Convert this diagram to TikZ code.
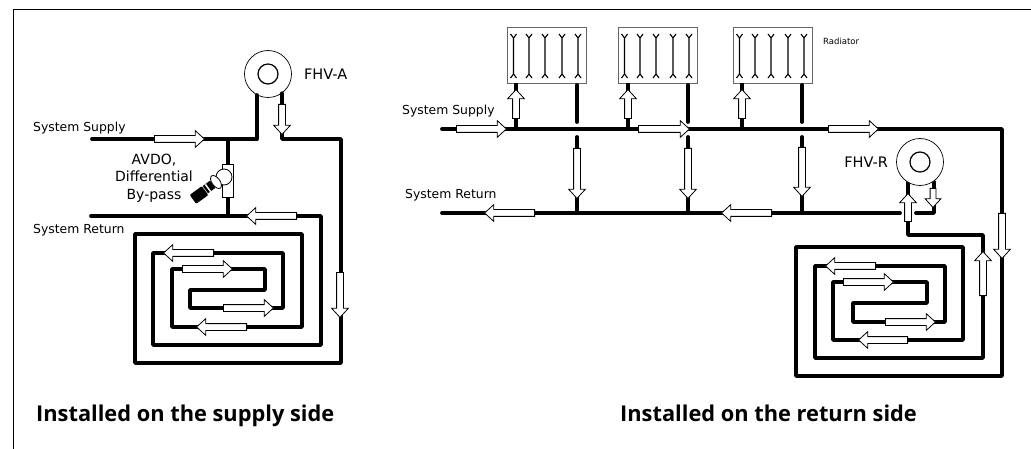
\documentclass[tikz,border=0pt]{standalone}
\usepackage{fontspec}
\setmainfont{DejaVu Sans}
\newfontfamily\titlefont{Open Sans}
\usetikzlibrary{shapes.arrows,shapes.geometric,positioning,calc}

\begin{document}
\begin{tikzpicture}[
    x=1pt, y=-1pt,
    node distance=8pt,
    pipe/.style={line width=3.8pt, line join=round, line cap=round},
    flow/.style={single arrow, draw=black, fill=white, line width=0.8pt, inner sep=3pt, minimum width=16pt, single arrow head extend=5pt, single arrow tip angle=85, anchor=tail},
    flowE/.style={flow, minimum height=#1, shape border rotate=0},
    flowW/.style={flow, minimum height=#1, shape border rotate=180},
    flowN/.style={flow, minimum height=#1, shape border rotate=90},
    flowS/.style={flow, minimum height=#1, shape border rotate=270},
    valve/.style={circle, draw=black, fill=white, line width=0.7pt, minimum size=47pt, inner sep=0pt},
    valvecore/.style={circle, draw=black, line width=1.2pt, minimum size=20pt, inner sep=0pt},
    radiator/.style={rectangle, draw=black!60, fill=white, line width=0.8pt, minimum width=79pt, minimum height=56pt, inner sep=0pt, anchor=north west},
    tube/.style={line width=1.1pt},
    label/.style={font=\fontsize{12.4}{12.4}\selectfont, inner sep=0pt},
    fhv/.style={font=\fontsize{14.5}{14.5}\selectfont, inner sep=0pt},
    caption/.style={font=\titlefont\bfseries\fontsize{21.8}{21.8}\selectfont, inner sep=0pt, anchor=base west},
    bypass/.style={rectangle, draw=black, fill=white, line width=0.7pt, inner sep=0pt},
    knob/.style={rectangle, fill=black, inner sep=0pt, rotate=36}
]
    \useasboundingbox (0,0) rectangle (1031,449);
    \coordinate (frameTL) at (13.5,9);
    \draw[line width=0.9pt] (13.5,449) -- (frameTL) -- (1031,9);

    % supply side
    \node[valve] (fhvA) at (268,74) {};
    \node[valvecore] (fhvAcore) at (fhvA) {};
    \node[fhv, right=12pt of fhvA] (fhvAlabel) {FHV-A};
    \coordinate (supA) at (92,139);
    \coordinate (retA) at (91,216);
    \coordinate (teeS) at (228,139);
    \coordinate (teeR) at (228,216);
    \draw[pipe] (supA) -| (fhvA.-118);
    \draw[pipe] (fhvA.-54) -- (fhvA.-54 |- supA) -- (341,139) -- (341,363) -- (135,363) -- (135,234)
        -- (302,234) -- (302,327) -- (172,327) -- (172,269) -- (265,269) -- (265,290) -- (190,290)
        -- (190,308) -- (283,308) -- (283,253) -- (153,253) -- (153,345) -- (321,345) -- (321,216) -- (retA);
    \draw[pipe] (teeS) -- (teeR);

    % by-pass valve
    \node[bypass, minimum width=11pt, minimum height=33pt] (avdo) at (228,181) {};
    \node[circle, draw=black, fill=white, line width=0.8pt, minimum size=16pt, inner sep=0pt] (elbow) at (224,177) {};
    \node[knob, minimum width=9pt, minimum height=9pt] (stem) at (209,187) {};
    \node[knob, fill=white, minimum width=1.5pt, minimum height=9pt] (stemband) at (208,188) {};
    \node[ellipse, draw=black, fill=white, line width=0.8pt, minimum width=8pt, minimum height=15pt, inner sep=0pt, rotate=36] (collar) at (216,182) {};
    \node[knob, minimum width=15pt, minimum height=11pt, rounded corners=1pt] (cap) at (199,195) {};

    \node[flowE=50pt] (fa1) at (154,139) {};
    \node[flowS=30pt] (fa2) at (282,104) {};
    \node[flowW=50pt] (fa3) at (297,216) {};
    \node[flowS=45pt] (fa4) at (340,272) {};
    \node[flowW=50pt] (fa5) at (214,253) {};
    \node[flowE=50pt] (fa6) at (182,269) {};
    \node[flowE=50pt] (fa7) at (223,308) {};
    \node[flowW=50pt] (fa8) at (247,327) {};

    \node[label, anchor=west] (supAlabel) at (33,128.5) {System Supply};
    \node[label, anchor=west] (retAlabel) at (33,230) {System Return};
    \node[fhv, font=\fontsize{14}{17.5}\selectfont, align=center] (avdolabel) at (154,178) {AVDO,\\Differential\\By-pass};

    % return side
    \coordinate (supR) at (442,129);
    \coordinate (retR) at (442,213);
    \draw[pipe] (supR) -- (1002,129) -- (1002,376) -- (796,376) -- (796,247) -- (963,247) -- (963,340)
        -- (833,340) -- (833,282) -- (927,282) -- (927,303) -- (853,303) -- (853,322) -- (945,322)
        -- (945,266) -- (815,266) -- (815,358) -- (983,358) -- (983,235) -- (908,235) -- (908,182);
    \draw[pipe] (retR) -- (900,213);
    \draw[pipe] (916,213) -- (934,213) -- (934,182);

    \foreach \i/\x/\a in {1/507/516, 2/618/628, 3/733/742} {
        \node[radiator] (rad\i) at (\x,27) {};
        \foreach \t in {6.5,22,38,55,71} {
            \draw[tube] (\x+\t-3,34) -- (\x+\t,38) -- (\x+\t,74) -- (\x+\t-3,78);
            \draw[tube] (\x+\t+3,34) -- (\x+\t,38);
            \draw[tube] (\x+\t+3,78) -- (\x+\t,74);
        }
        \coordinate (riser\i) at (\a,83);
        \draw[pipe, line cap=butt] (riser\i) -- (riser\i |- supR);
        \node[flowN=29pt] (up\i) at (\a,119) {};
    }
    \foreach \i/\x in {1/577, 2/688, 3/802} {
        \coordinate (drop\i) at (\x,85);
        \draw[pipe] (drop\i) -- (\x,122);
        \draw[pipe] (\x,137) -- (\x,213);
    }
    \node[flowS=50pt] (dn1) at (577,148) {};
    \node[flowS=50pt] (dn2) at (688,148) {};
    \node[flowS=49pt] (dn3) at (802,147) {};

    \node[valve] (fhvR) at (920,162) {};
    \node[valvecore] (fhvRcore) at (fhvR) {};
    \node[fhv, left=8pt of fhvR] (fhvRlabel) {FHV-R};

    \node[flowE=50pt] (fr1) at (456,129) {};
    \node[flowE=51pt] (fr2) at (638,129) {};
    \node[flowE=50pt] (fr3) at (828,129) {};
    \node[flowW=50pt] (fr4) at (535,213) {};
    \node[flowW=50pt] (fr5) at (772,213) {};
    \node[flowN=28pt] (fr6) at (908,222) {};
    \node[flowS=19pt, minimum width=15pt, inner sep=2.5pt] (fr7) at (933,188) {};
    \node[flowS=45pt] (fr8) at (1002,213) {};
    \node[flowN=44pt] (fr9) at (983,296) {};
    \node[flowW=50pt] (fr10) at (876,266) {};
    \node[flowE=50pt] (fr11) at (843,282) {};
    \node[flowE=50pt] (fr12) at (885,322) {};
    \node[flowW=49pt] (fr13) at (908,340) {};

    \node[label, anchor=west] (supRlabel) at (402,111.5) {System Supply};
    \node[label, anchor=west] (retRlabel) at (405,195.5) {System Return};
    \node[font=\fontsize{8.5}{8.5}\selectfont, inner sep=0pt, anchor=west] (radlabel) at (823,41) {Radiator};

    \node[caption] (capA) at (36,421) {Installed on the supply side};
    \node[caption] (capR) at (620,421) {Installed on the return side};
\end{tikzpicture}
\end{document}
